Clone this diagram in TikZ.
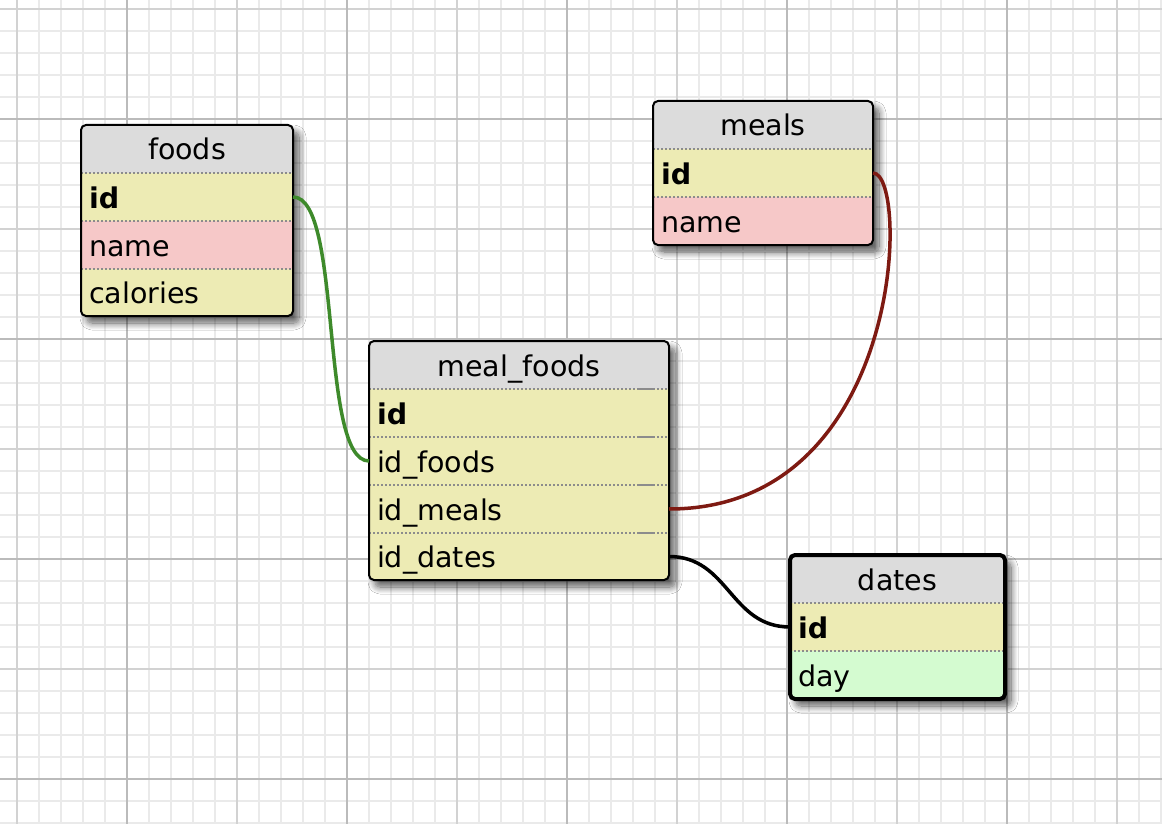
\documentclass[tikz,border=0pt]{standalone}
\usepackage{fontspec}
\setmainfont{DejaVu Sans}
\usetikzlibrary{shadows.blur}
\definecolor{hdrc}{HTML}{DCDCDC}
\definecolor{yelc}{HTML}{EDEBB4}
\definecolor{pinkc}{HTML}{F6C8C8}
\definecolor{grnc}{HTML}{D4FBD0}
\definecolor{minorc}{HTML}{EAEAEA}
\definecolor{medc}{HTML}{D2D2D2}
\definecolor{majc}{HTML}{BBBBBB}
\definecolor{linkg}{HTML}{3E8A2B}
\definecolor{linkr}{HTML}{7E1A12}
\definecolor{sepc}{HTML}{8C8C8C}
\tikzset{
  tbl/.style={fill=white, rounded corners=5pt,
    blur shadow={shadow xshift=6pt, shadow yshift=-7pt, shadow blur radius=7pt,
                 shadow blur steps=12, shadow opacity=65}},
  border/.style={draw=black, line width=2pt, rounded corners=5pt},
  cell/.style={anchor=north west, inner xsep=8pt, inner ysep=0pt, outer sep=0pt,
    minimum height=48pt, text height=26pt, text depth=4pt,
    font=\fontsize{28.5}{33}\selectfont, align=left},
  hdr/.style={cell, fill=hdrc, align=center},
  yel/.style={cell, fill=yelc},
  pnk/.style={cell, fill=pinkc},
  grn/.style={cell, fill=grnc},
  sep/.style={draw=sepc, line width=1.5pt, dash pattern=on 2pt off 2pt},
  sepsolid/.style={draw=sepc, line width=1.5pt},
  link/.style={line width=3.5pt},
  gminor/.style={draw=minorc, line width=1.7pt},
  gmed/.style={draw=medc, line width=1.9pt},
  gmaj/.style={draw=majc, line width=1.9pt},
}
\begin{document}
\begin{tikzpicture}[x=1pt, y=-1pt]
\useasboundingbox (0,0) rectangle (1162,824);
\fill[white] (0,0) rectangle (1162,824);
% grid
\foreach \x in {17,39,...,1161} \draw[gminor] (\x,0) -- (\x,824);
\foreach \y in {9,31,...,823} \draw[gminor] (0,\y) -- (1162,\y);
\foreach \x in {17,237,...,1117} \draw[gmed] (\x,0) -- (\x,824);
\foreach \y in {9,229,449,669} \draw[gmed] (0,\y) -- (1162,\y);
\foreach \x in {127,347,567,787,1007} \draw[gmaj] (\x,0) -- (\x,824);
\foreach \y in {119,339,559,779} \draw[gmaj] (0,\y) -- (1162,\y);

% ---------- foods ----------
\path[tbl] (81,125) rectangle (293,316);
\begin{scope}
  \clip[rounded corners=5pt] (81,125) rectangle (293,316);
  \node[hdr, text width=196pt] (foods) at (81,125) {foods};
  \node[yel, text width=196pt] (foods-id) at (foods.south west) {\textbf{id}};
  \node[pnk, text width=196pt] (foods-name) at (foods-id.south west) {name};
  \node[yel, text width=196pt, minimum height=47pt] (foods-cal) at (foods-name.south west) {calories};
  \draw[sep] (foods-id.north west) -- (foods-id.north east);
  \draw[sep] (foods-name.north west) -- (foods-name.north east);
  \draw[sep] (foods-cal.north west) -- (foods-cal.north east);
\end{scope}
\draw[border] (81,125) rectangle (293,316);

% ---------- meals ----------
\path[tbl] (653,101) rectangle (873,245);
\begin{scope}
  \clip[rounded corners=5pt] (653,101) rectangle (873,245);
  \node[hdr, text width=204pt] (meals) at (653,101) {meals};
  \node[yel, text width=204pt] (meals-id) at (meals.south west) {\textbf{id}};
  \node[pnk, text width=204pt] (meals-name) at (meals-id.south west) {name};
  \draw[sep] (meals-id.north west) -- (meals-id.north east);
  \draw[sep] (meals-name.north west) -- (meals-name.north east);
\end{scope}
\draw[border] (653,101) rectangle (873,245);

% ---------- meal_foods ----------
\path[tbl] (369,341) rectangle (669,580);
\begin{scope}
  \clip[rounded corners=5pt] (369,341) rectangle (669,580);
  \node[hdr, text width=284pt] (mf) at (369,341) {meal\_foods};
  \node[yel, text width=284pt] (mf-id) at (mf.south west) {\textbf{id}};
  \node[yel, text width=284pt] (mf-foods) at (mf-id.south west) {id\_foods};
  \node[yel, text width=284pt] (mf-meals) at (mf-foods.south west) {id\_meals};
  \node[yel, text width=284pt, minimum height=47pt] (mf-dates) at (mf-meals.south west) {id\_dates};
  \foreach \r in {mf-id,mf-foods,mf-meals,mf-dates} {
    \draw[sep] (\r.north west) -- (\r.north east);
    \draw[sepsolid] ([xshift=-31pt]\r.north east) -- ([xshift=-16pt]\r.north east);
  }
\end{scope}
\draw[border] (369,341) rectangle (669,580);

% ---------- dates ----------
\path[tbl] (790,555) rectangle (1005,699);
\begin{scope}
  \clip[rounded corners=5pt] (790,555) rectangle (1005,699);
  \node[hdr, text width=199pt] (dates) at (790,555) {dates};
  \node[yel, text width=199pt] (dates-id) at (dates.south west) {\textbf{id}};
  \node[grn, text width=199pt] (dates-day) at (dates-id.south west) {day};
  \draw[sep] (dates-id.north west) -- (dates-id.north east);
  \draw[sep] (dates-day.north west) -- (dates-day.north east);
\end{scope}
\draw[border, line width=4pt] (790,555) rectangle (1005,699);

% ---------- connectors ----------
\draw[link, linkg] (foods-id.east) .. controls +(50,0) and +(-50,0) .. (mf-foods.west);
\draw[link, linkr] (meals-id.east) .. controls +(37,0) and +(236,0) .. (mf-meals.east);
\draw[link, black] (mf-dates.east) .. controls +(60,0) and +(-60,0) .. (dates-id.west);
\end{tikzpicture}
\end{document}
